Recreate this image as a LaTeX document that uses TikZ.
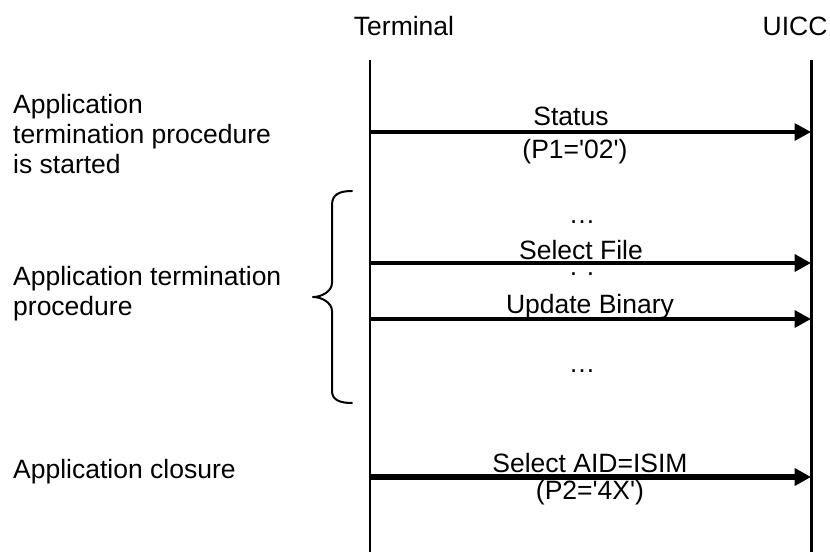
\documentclass[tikz,border=0pt]{standalone}
\usepackage{fontspec}
\newfontfamily\arialish{Liberation Sans}
\usetikzlibrary{arrows.meta}
\begin{document}
\begin{tikzpicture}[x=1pt,y=-1pt,
  txt/.style={inner sep=0pt,anchor=base,font=\arialish\fontsize{26.5}{30}\selectfont},
  ltxt/.style={inner sep=0pt,anchor=base west,align=left,font=\arialish\fontsize{26.5}{30}\selectfont},
  life/.style={line width=2.3pt},
  msg/.style={-{Triangle[length=16.5pt,width=17pt]}},
  brace/.style={line width=2pt,line cap=round,line join=round}]
\useasboundingbox (0,0) rectangle (830,552);
% headers
\node[txt] (term) at (404,35) {Terminal};
\node[txt] (uicc) at (795,35) {UICC};
% lifelines
\coordinate (tTop) at (370,60);
\coordinate (tBot) at (370,552);
\coordinate (uTop) at (811.5,60);
\coordinate (uBot) at (811.5,552);
\draw[life] (tTop) -- (tBot);
\draw[life] (uTop) -- (uBot);
% message anchors
\coordinate (t1) at (370,132); \coordinate (u1) at (811,132);
\coordinate (t2) at (370,263); \coordinate (u2) at (811,263);
\coordinate (t3) at (370,319); \coordinate (u3) at (811,319);
\coordinate (t4) at (370,477); \coordinate (u4) at (811,477);
\draw[msg,line width=3.5pt] (t1) -- (u1);
\draw[msg,line width=4.5pt] (t2) -- (u2);
\draw[msg,line width=3.5pt] (t3) -- (u3);
\draw[msg,line width=6pt] (t4) -- (u4);
% message labels
\node[txt] (m1a) at (571,125) {Status};
\node[txt] (m1b) at (575,158) {(P1='02')};
\node[txt] (d1) at (582,223) {…};
\node[txt] (m2) at (581,259) {Select File};
\node[txt] (d2) at (582,275) {.\hspace{9.6pt}.};
\node[txt] (m3) at (590,313) {Update Binary};
\node[txt] (d3) at (582,372) {…};
\node[txt] (m4a) at (590,472) {Select AID=ISIM};
\node[txt] (m4b) at (590,499) {(P2='4X')};
% left texts
\node[ltxt] (l1) at (13,173) {Application\\termination procedure\\is started};
\node[ltxt] (l2) at (13,315.5) {Application termination\\procedure};
\node[ltxt] (l3) at (13,478) {Application closure};
% brace
\draw[brace] (352,191) .. controls (340,191) and (332,194) .. (332,205)
  -- (332,283) .. controls (332,291) and (322,297) .. (313,297)
  .. controls (322,297) and (332,303) .. (332,311)
  -- (332,391) .. controls (332,400) and (340,403) .. (352,403);
\end{tikzpicture}
\end{document}
